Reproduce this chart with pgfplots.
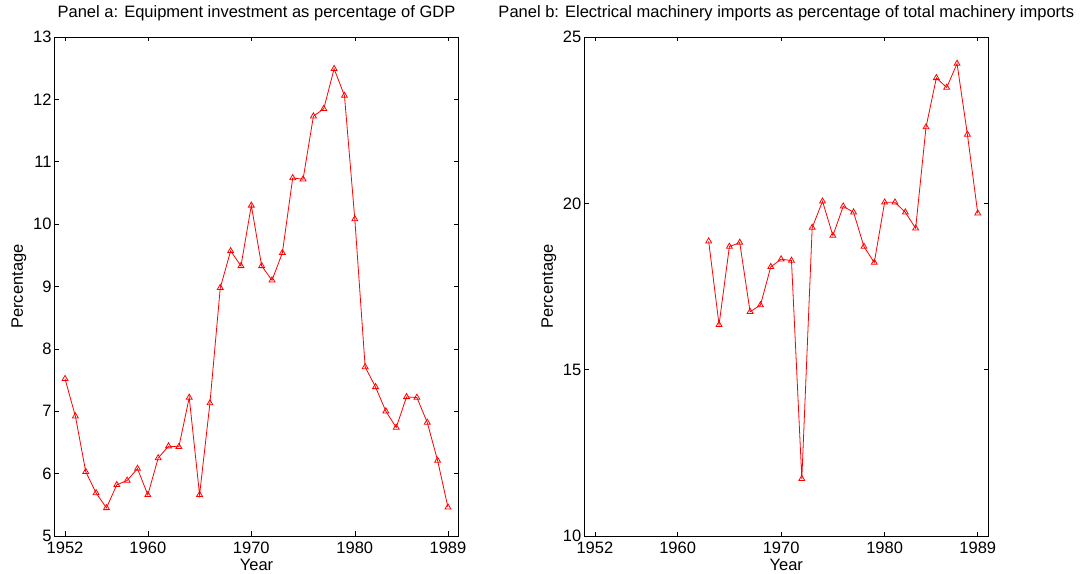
\documentclass[border=0pt]{standalone}
\usepackage{fontspec}
\setmainfont{Liberation Sans}
\usepackage{pgfplots}
\pgfplotsset{compat=1.18}
\pgfplotsset{
  panel/.style={
    scale only axis, width=403.6bp, height=499bp,
    anchor=south west,
    xmin=1951, xmax=1990,
    xtick={1952,1960,1970,1980,1989},
    /pgf/number format/1000 sep={},
    /pgf/number format/assume math mode=true,
    tick align=inside, major tick length=4.5bp,
    axis line style={line width=0.9bp, black},
    every tick/.style={line width=0.6bp, black},
    tick label style={font=\fontsize{16.5bp}{18bp}\selectfont},
    xticklabel style={anchor=base, inner sep=0pt, yshift=-17.5bp},
    yticklabel style={anchor=east, inner sep=0pt, xshift=-3bp},
    label style={font=\fontsize{16.5bp}{18bp}\selectfont},
    xlabel=Year, ylabel=Percentage,
    xlabel style={at={(axis description cs:0.5,0)}, anchor=base, yshift=-34.5bp, inner sep=0pt},
    ylabel style={at={(axis description cs:0,0.5)}, anchor=center, inner sep=0pt, yshift=35.7bp},
    title style={at={(axis description cs:0.5,1)}, anchor=base, yshift=14bp, inner sep=0pt, font=\fontsize{16.5bp}{18bp}\selectfont},
  },
  series/.style={red, line width=0.8bp, mark=triangle, mark size=3.4bp, mark options={solid, line width=0.8bp}},
}
\begin{document}
\begin{tikzpicture}
\useasboundingbox (0,0) rectangle (1088bp,574bp);
\begin{axis}[panel, at={(54.7bp,38bp)},
  ymin=5, ymax=13, ytick={5,6,7,8,9,10,11,12,13},
  title={Panel a: Equipment investment as percentage of GDP}]
\addplot[series] coordinates {
(1952,7.52) (1953,6.92) (1954,6.03) (1955,5.69) (1956,5.45) (1957,5.82)
(1958,5.89) (1959,6.08) (1960,5.66) (1961,6.25) (1962,6.44) (1963,6.43)
(1964,7.22) (1965,5.66) (1966,7.13) (1967,8.98) (1968,9.57) (1969,9.33)
(1970,10.30) (1971,9.33) (1972,9.10) (1973,9.54) (1974,10.74) (1975,10.72)
(1976,11.73) (1977,11.85) (1978,12.49) (1979,12.06) (1980,10.08) (1981,7.71)
(1982,7.39) (1983,7.00) (1984,6.74) (1985,7.23) (1986,7.22) (1987,6.82)
(1988,6.21) (1989,5.46)
};
\end{axis}
\begin{axis}[panel, at={(584.5bp,38bp)},
  ymin=10, ymax=25, ytick={10,15,20,25},
  title={Panel b: Electrical machinery imports as percentage of total machinery imports}]
\addplot[series] coordinates {
(1963,18.86) (1964,16.35) (1965,18.70) (1966,18.82) (1967,16.74) (1968,16.94)
(1969,18.09) (1970,18.32) (1971,18.28) (1972,11.72) (1973,19.27) (1974,20.06)
(1975,19.03) (1976,19.91) (1977,19.73) (1978,18.70) (1979,18.22) (1980,20.03)
(1981,20.03) (1982,19.73) (1983,19.25) (1984,22.29) (1985,23.77) (1986,23.48)
(1987,24.20) (1988,22.07) (1989,19.70)
};
\end{axis}
\end{tikzpicture}
\end{document}
